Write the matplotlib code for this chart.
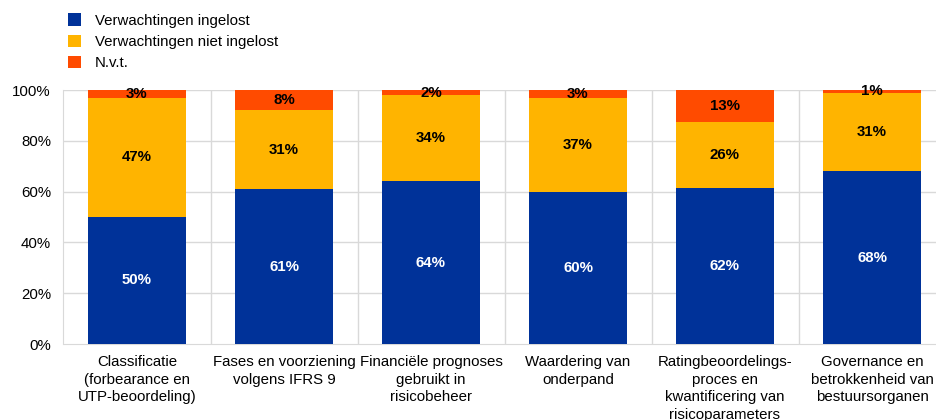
import matplotlib
matplotlib.use("Agg")
import matplotlib.pyplot as plt
from matplotlib.patches import Patch
import numpy as np

plt.rcParams['font.family'] = ['Liberation Sans', 'DejaVu Sans']

categories = [
    "Classificatie\n(forbearance en\nUTP-beoordeling)",
    "Fases en voorziening\nvolgens IFRS 9",
    "Financiële prognoses\ngebruikt in\nrisicobeheer",
    "Waardering van\nonderpand",
    "Ratingbeoordelings-\nproces en\nkwantificering van\nrisicoparameters",
    "Governance en\nbetrokkenheid van\nbestuursorganen",
]
series_names = ["Verwachtingen ingelost", "Verwachtingen niet ingelost", "N.v.t."]
met = [50, 61, 64, 60, 61.6, 68]
not_met = [47, 31, 34, 37, 25.8, 31]
na = [3, 8, 2, 3, 12.6, 1]
yticks = [0, 20, 40, 60, 80, 100]

colors = ["#003299", "#FFB400", "#FF4B00"]
text_colors = ["white", "black", "black"]

fs = 10.8

fig = plt.figure(figsize=(9.36, 4.2), dpi=100)
ax = fig.add_axes([63.5/936, 1-344/420, (945.5-63.5)/936, (344-90)/420])

x = np.arange(len(categories))
bottom = np.zeros(len(categories))
for vals, col, tcol in zip([met, not_met, na], colors, text_colors):
    vals = np.array(vals, dtype=float)
    ax.bar(x, vals, bottom=bottom, width=0.667, color=col, zorder=3)
    for xi, b, v in zip(x, bottom, vals):
        ax.text(xi, b + v / 2, f"{v:.0f}%", ha="center", va="center",
                color=tcol, fontsize=fs, fontweight="bold", zorder=4)
    bottom += vals

ax.set_xlim(-0.5, len(categories) - 0.5)
ax.set_ylim(0, 100)
ax.set_yticks(yticks)
ax.set_yticklabels([f"{t}%" for t in yticks], fontsize=fs)
ax.set_xticks(x)
ax.set_xticklabels(categories, fontsize=fs, linespacing=1.32)
ax.tick_params(axis="both", length=0, colors="black")
ax.tick_params(axis="y", pad=9)
ax.tick_params(axis="x", pad=8)

for yv in yticks[1:]:
    ax.axhline(yv, color="#d9d9d9", lw=1, zorder=1)
for xv in np.arange(0.5, len(categories) - 0.5, 1):
    ax.axvline(xv, color="#d9d9d9", lw=1, zorder=1)

for s in ["top", "right"]:
    ax.spines[s].set_visible(False)
ax.spines["left"].set_color("#d9d9d9")
ax.spines["bottom"].set_color("#d9d9d9")

handles = [Patch(facecolor=c, edgecolor="none") for c in colors]
fig.legend(handles, series_names, loc="upper left", bbox_to_anchor=(0.058, 1.0),
           frameon=False, fontsize=fs, handlelength=0.9, handleheight=0.9,
           handletextpad=0.9, labelspacing=0.45)

fig.savefig("out.png", dpi=100)
